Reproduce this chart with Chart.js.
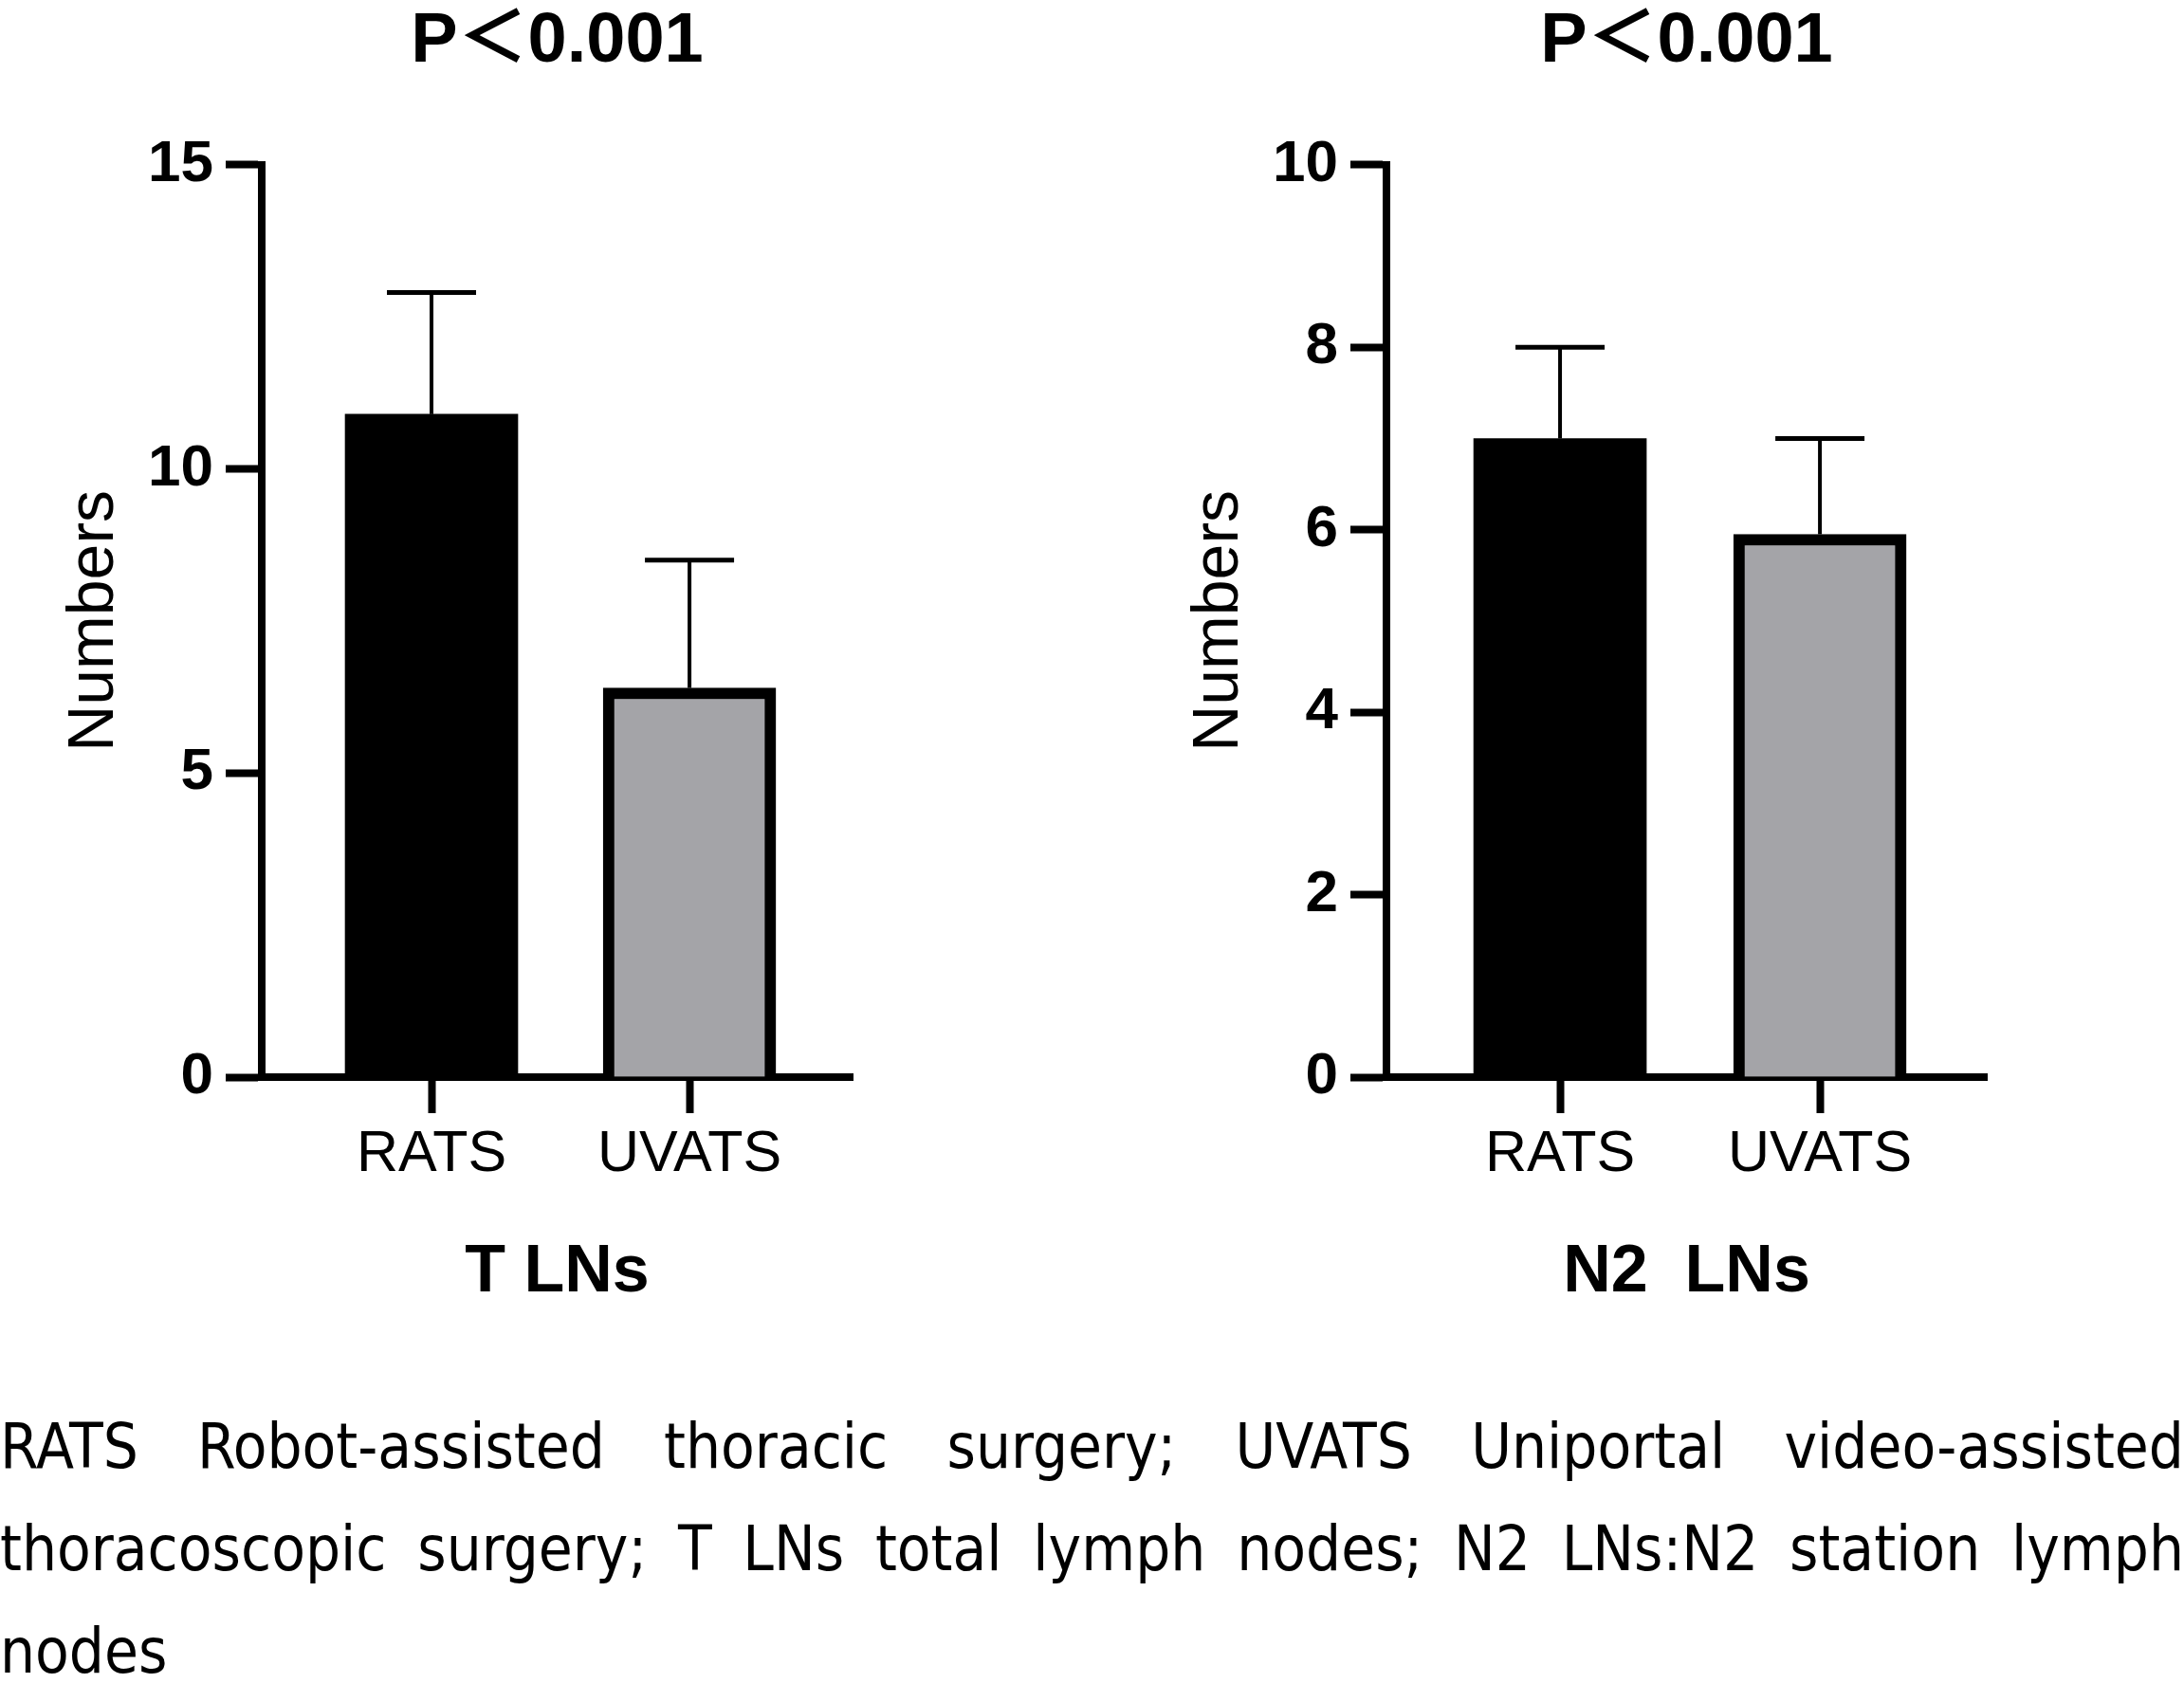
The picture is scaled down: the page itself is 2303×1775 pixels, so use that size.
<!DOCTYPE html>
<html lang="en">
<head>
    <meta charset="UTF-8">
    <title>T LNs / N2 LNs</title>
    <script src="https://cdn.jsdelivr.net/npm/chart.js"></script>
    <style>
        body { margin: 0; background: #fff; width: 2303px; height: 1775px; position: relative; overflow: hidden; }
        canvas { position: absolute; top: 0; }
        #c1 { left: 0; }
        #c2 { left: 1186px; }
        .caption {
            position: absolute; left: 0; top: 1472px; width: 2303px;
            font-family: 'Liberation Sans Narrow', 'DejaVu Sans Condensed', 'Liberation Sans', sans-serif;
            font-size: 65px; line-height: 108px; color: #000;
        }
        .caption .just { text-align: justify; text-align-last: justify; }
    </style>
</head>
<body>
    <canvas id="c1" width="1117" height="1420"></canvas>
    <canvas id="c2" width="1117" height="1420"></canvas>
    <div class="caption">
        <div class="just">RATS Robot-assisted thoracic surgery; UVATS Uniportal video-assisted</div>
        <div class="just">thoracoscopic surgery; T LNs total lymph nodes; N2 LNs:N2 station lymph</div>
        <div>nodes</div>
    </div>

    <script>
// データ
const groups = ['RATS', 'UVATS'];
const pText = 'P＜0.001';

const tlnMean = [10.9, 6.4];
const tlnSD = [2.0, 2.1];
const tlnTicks = [0, 5, 10, 15];

const n2Mean = [7.0, 5.95];
const n2SD = [1.0, 1.05];
const n2Ticks = [0, 2, 4, 6, 8, 10];

const barColors = ['#000000', '#a4a4a8'];

Chart.defaults.font.family = "'Liberation Sans', 'Noto Sans CJK SC', Arial, sans-serif";
Chart.defaults.color = '#000';

// エラーバー（平均 + SD の上側のみ）
const errorBars = {
    id: 'errorBars',
    afterDatasetsDraw(chart) {
        const ctx = chart.ctx;
        const yScale = chart.scales.y;
        chart.data.datasets.forEach((ds, di) => {
            const meta = chart.getDatasetMeta(di);
            meta.data.forEach((bar, i) => {
                const yTop = yScale.getPixelForValue(ds.means[i] + ds.errors[i]);
                const yBar = yScale.getPixelForValue(ds.means[i]);
                ctx.save();
                ctx.strokeStyle = '#000';
                ctx.lineWidth = 4;
                ctx.beginPath();
                ctx.moveTo(bar.x, yBar);
                ctx.lineTo(bar.x, yTop);
                ctx.stroke();
                ctx.lineWidth = 5;
                ctx.beginPath();
                ctx.moveTo(bar.x - 47, yTop);
                ctx.lineTo(bar.x + 47, yTop);
                ctx.stroke();
                ctx.restore();
            });
        });
    }
};

function makeChart(id, means, sds, ticks, xTitle, xMin, xMax, padRight) {
    const ctx = document.getElementById(id).getContext('2d');
    return new Chart(ctx, {
        type: 'bar',
        data: {
            datasets: [{
                data: groups.map((g, i) => ({ x: i, y: means[i] })),
                means: means,
                errors: sds,
                backgroundColor: barColors,
                borderColor: '#000',
                borderWidth: [0, 12],
                barThickness: 182
            }]
        },
        options: {
            responsive: false,
            animation: false,
            layout: { padding: { left: 0, right: padRight, top: 0, bottom: 0 } },
            plugins: {
                legend: { display: false },
                tooltip: { enabled: false },
                title: {
                    display: true,
                    text: pText,
                    fullSize: false,
                    font: { size: 74, weight: 'bold' },
                    padding: { top: 0, bottom: 85 }
                }
            },
            scales: {
                x: {
                    type: 'linear',
                    offset: false,
                    min: xMin,
                    max: xMax,
                    afterBuildTicks: s => { s.ticks = groups.map((g, i) => ({ value: i })); },
                    afterFit: s => { s.height = 284; },
                    ticks: {
                        callback: v => groups[v],
                        font: { size: 61 },
                        padding: 8,
                        maxRotation: 0,
                        autoSkip: false
                    },
                    grid: { offset: false, drawOnChartArea: false, tickLength: 38, tickWidth: 8, color: '#000' },
                    border: { display: true, width: 8, color: '#000' },
                    title: {
                        display: true,
                        text: xTitle,
                        font: { size: 70, weight: 'bold' },
                        padding: { top: 0, bottom: 35 }
                    }
                },
                y: {
                    min: ticks[0],
                    max: ticks[ticks.length - 1],
                    afterBuildTicks: s => { s.ticks = ticks.map(v => ({ value: v })); },
                    afterFit: s => { s.width = 276; },
                    ticks: { font: { size: 62, weight: 'bold' }, padding: 13 },
                    grid: { drawOnChartArea: false, tickLength: 38, tickWidth: 8, color: '#000' },
                    border: { display: true, width: 8, color: '#000' },
                    title: {
                        display: true,
                        text: 'Numbers',
                        font: { size: 68 },
                        padding: { top: 59, bottom: 0 }
                    }
                }
            }
        },
        plugins: [errorBars]
    });
}

makeChart('c1', tlnMean, tlnSD, tlnTicks, 'T LNs', -0.658, 1.632, 218);
makeChart('c2', n2Mean, n2SD, n2Ticks, 'N2  LNs', -0.668, 1.642, 208);
    </script>
</body>
</html>
